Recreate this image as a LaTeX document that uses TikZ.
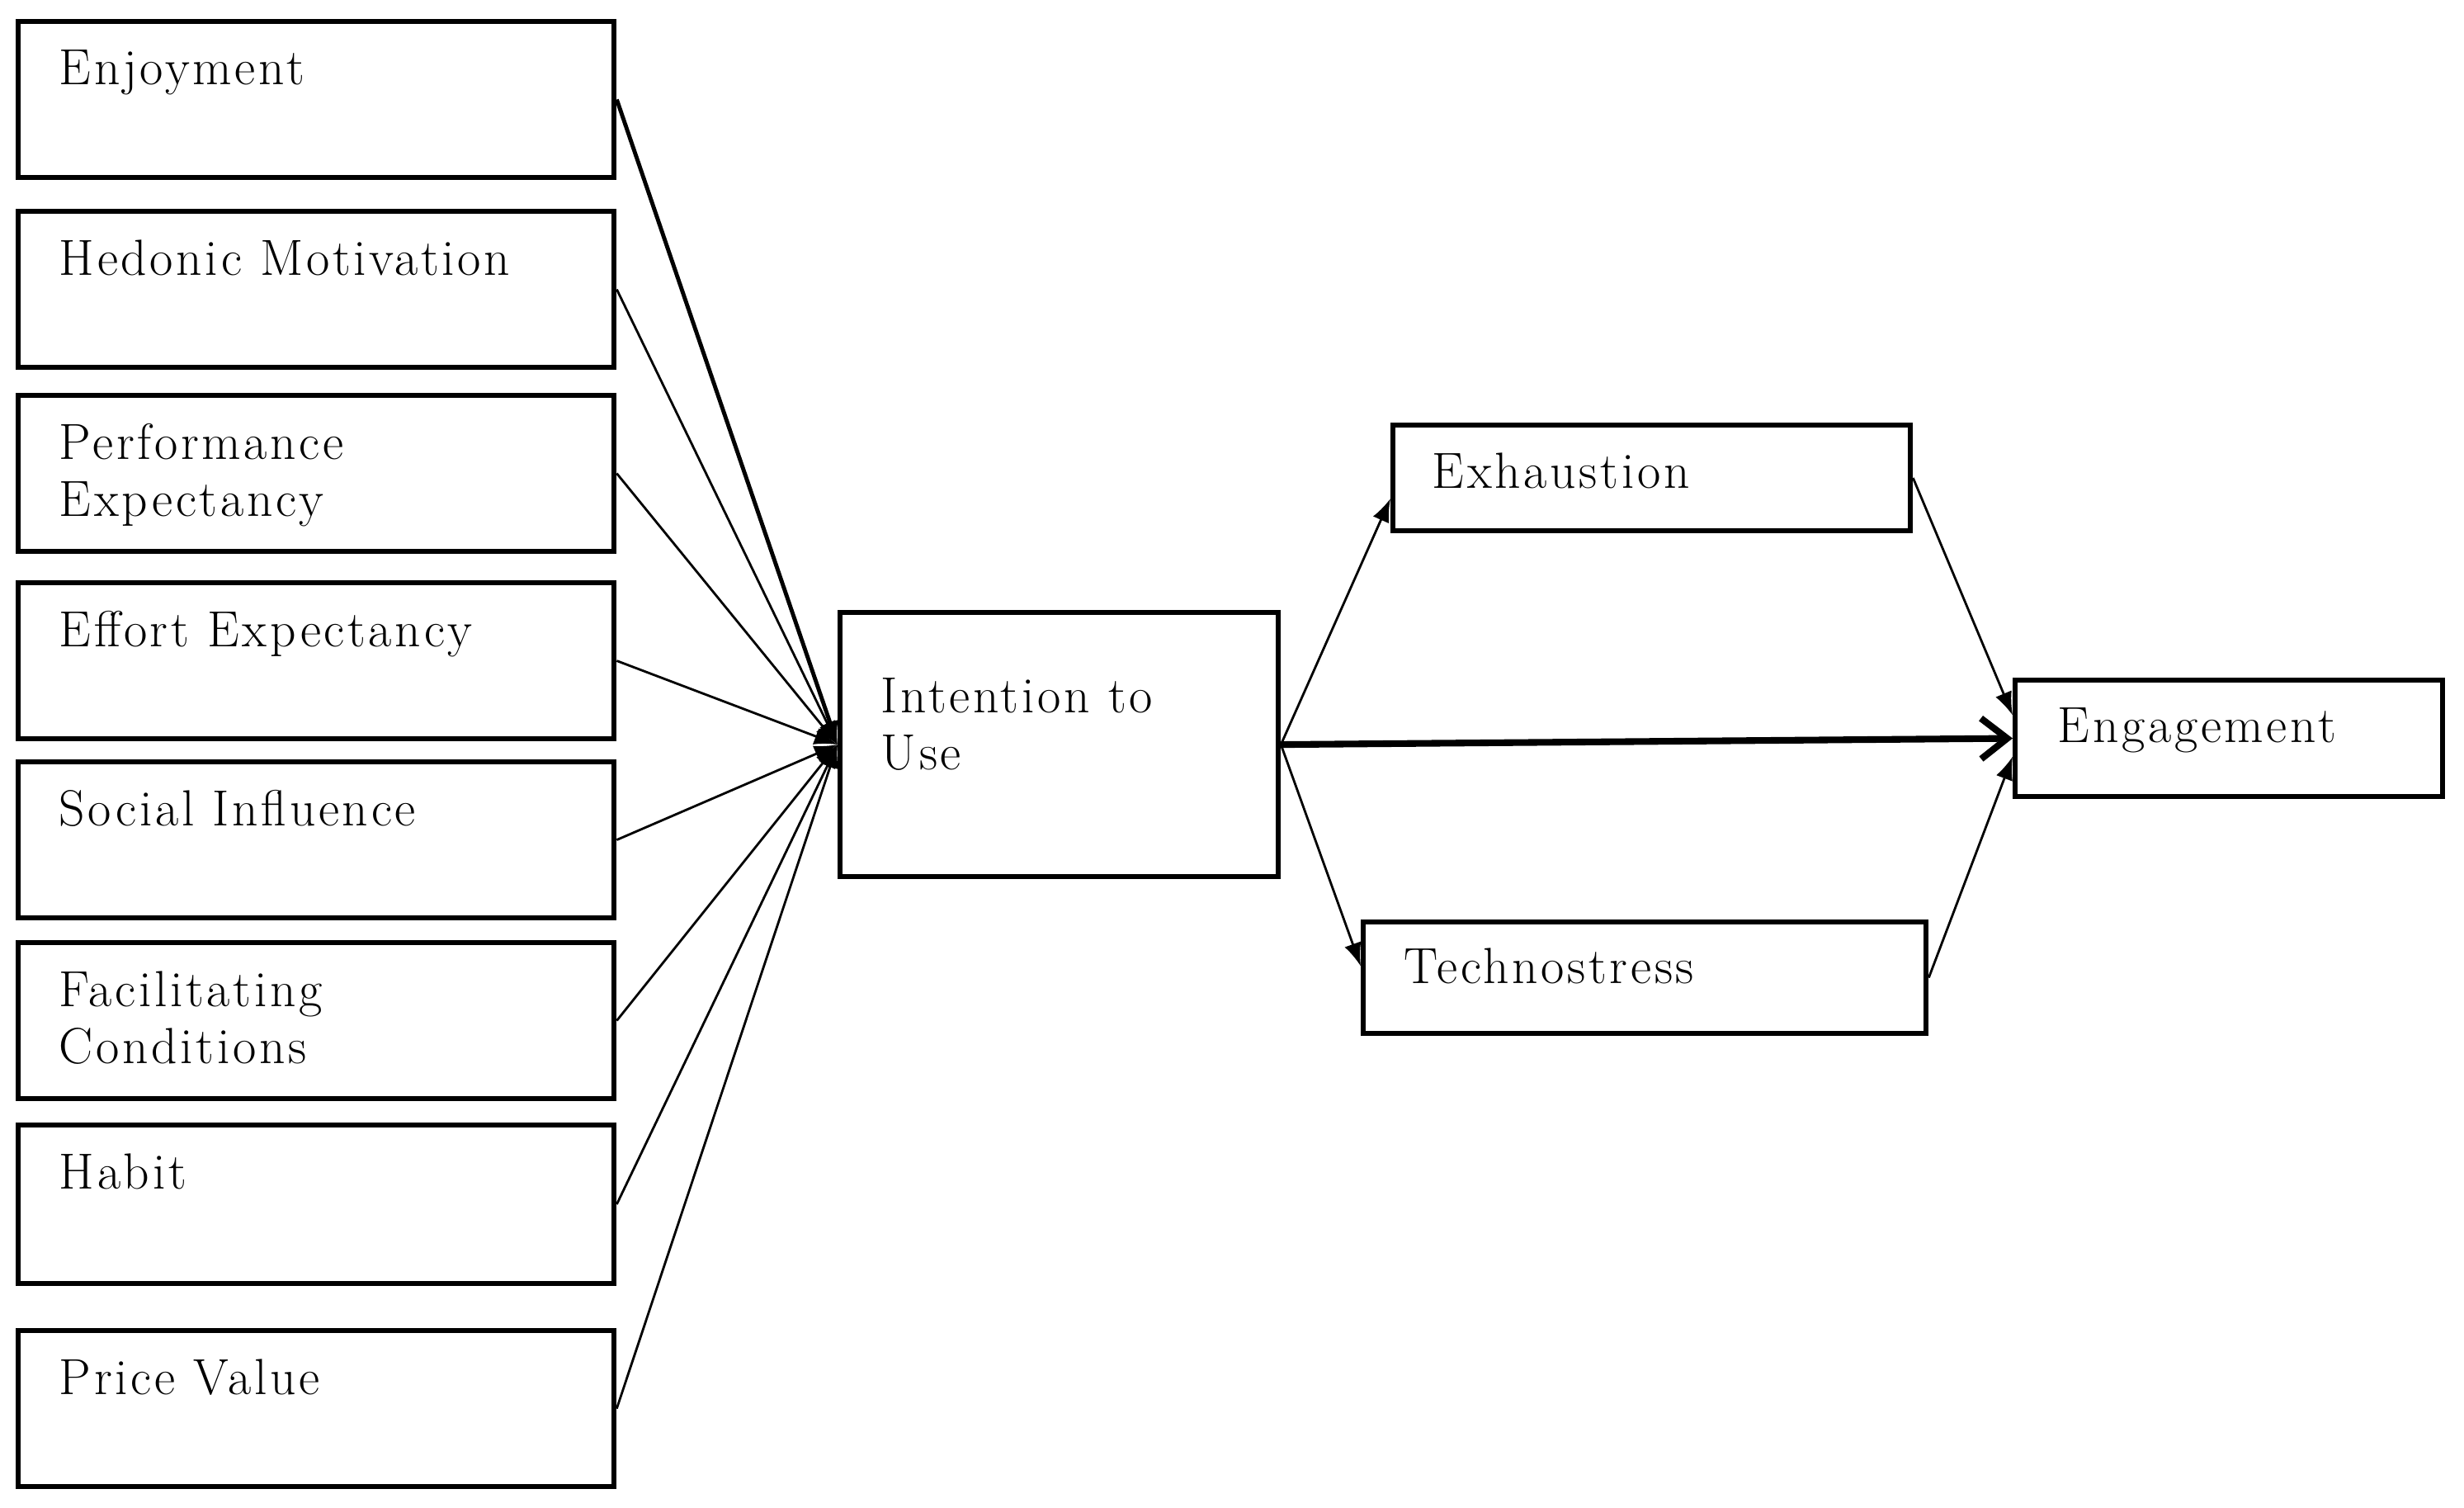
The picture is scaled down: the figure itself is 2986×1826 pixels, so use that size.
\documentclass[tikz,border=0pt]{standalone}
\usepackage{fontspec}
\newfontfamily\lblfont{Latin Modern Roman}[LetterSpace=6]
\usepackage{tikz}
\usetikzlibrary{arrows.meta, positioning, calc}

\begin{document}
\begin{tikzpicture}[
    x=0.01cm, y=-0.01cm,
    box/.style={draw=black, line width=1.7pt, anchor=north west, inner sep=0pt},
    factor/.style={box, minimum width=7.22cm, minimum height=1.89cm},
    lbl/.style={anchor=north west, inner sep=0pt, align=left, font=\lblfont\fontsize{17.5}{19.5}\selectfont},
    link/.style={-{Latex[length=8pt,width=6pt]}, line width=0.8pt},
    main/.style={-{Straight Barb[length=9pt,width=14pt]}, line width=2.3pt}
]
\useasboundingbox (0,0) rectangle (2986,1826);

% determinants
\node[factor] (enj) at (19,23) {};
\node[factor] (hed) at (19,253) {};
\node[factor] (perf) at (19,476) {};
\node[factor] (eff) at (19,703) {};
\node[factor] (soc) at (19,920) {};
\node[factor] (fac) at (19,1139) {};
\node[factor, minimum height=1.92cm] (hab) at (19,1360) {};
\node[factor] (price) at (19,1609) {};

\node[lbl] (enj-t) at ($(enj.north west)+(52,37)$) {Enjoyment};
\node[lbl] (hed-t) at ($(hed.north west)+(52,37)$) {Hedonic Motivation};
\node[lbl] (perf-t) at ($(perf.north west)+(52,37)$) {Performance\\Expectancy};
\node[lbl] (eff-t) at ($(eff.north west)+(52,37)$) {Effort Expectancy};
\node[lbl] (soc-t) at ($(soc.north west)+(52,37)$) {Social Influence};
\node[lbl] (fac-t) at ($(fac.north west)+(52,37)$) {Facilitating\\Conditions};
\node[lbl] (hab-t) at ($(hab.north west)+(52,37)$) {Habit};
\node[lbl] (price-t) at ($(price.north west)+(52,37)$) {Price Value};

% mediators and outcome
\node[box, minimum width=5.31cm, minimum height=3.2cm] (int) at (1015,739) {};
\node[box, minimum width=6.27cm, minimum height=1.28cm] (exh) at (1685,512) {};
\node[box, minimum width=6.82cm, minimum height=1.35cm] (tech) at (1649,1114) {};
\node[box, minimum width=5.18cm, minimum height=1.41cm] (eng) at (2439,821) {};

\node[lbl] (int-t) at ($(int.north west)+(52,82)$) {Intention to\\Use};
\node[lbl] (exh-t) at ($(exh.north west)+(50,36)$) {Exhaustion};
\node[lbl] (tech-t) at ($(tech.north west)+(52,34)$) {Technostress};
\node[lbl] (eng-t) at ($(eng.north west)+(54,36)$) {Engagement};

% paths
\draw[link, line width=1.4pt] (enj.east) -- (int.west);
\draw[link] (hed.east) -- (int.west);
\draw[link] (perf.east) -- (int.west);
\draw[link] (eff.east) -- (int.west);
\draw[link] (soc.east) -- (int.west);
\draw[link] (fac.east) -- (int.west);
\draw[link] (hab.east) -- (int.west);
\draw[link] (price.east) -- (int.west);

\draw[link] (int.east) -- ([yshift=-0.25cm]exh.west);
\draw[link] (int.east) -- ([yshift=0.14cm]tech.west);
\draw[main] (int.east) -- (eng.west);
\draw[link] (exh.east) -- ([yshift=0.28cm]eng.west);
\draw[link] (tech.east) -- ([yshift=-0.22cm]eng.west);
\end{tikzpicture}
\end{document}
